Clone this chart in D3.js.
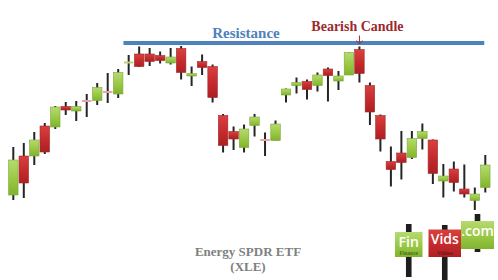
<!DOCTYPE html>
<html>
<head>
<meta charset="utf-8">
<script src="https://cdn.jsdelivr.net/npm/d3@7"></script>
<style>
  html, body { margin: 0; padding: 0; background: #fff; }
  svg { display: block; }
</style>
</head>
<body>
<div id="chart"></div>
<script>
// daily OHLC, oldest first
const opens = [54.0, 61.8, 61.8, 67.8, 67.6, 71.7, 70.8, 72.9, 72.9, 74.7, 74.2, 80.4, 82.2, 82.2, 81.9, 80.4,
  83.3, 77.8, 80.7, 79.7, 69.9, 66.7, 63.5, 67.9, 65.1, 64.9, 74.0, 75.9, 76.7, 75.9, 79.2, 76.8, 78.0, 83.1,
  75.9, 69.9, 60.7, 62.4, 61.5, 65.3, 65.0, 56.8, 59.2, 55.2, 52.9, 55.5];
const highs = [63.6, 64.4, 66.6, 68.4, 71.8, 72.6, 72.8, 74.2, 76.4, 78.4, 79.2, 82.0, 83.7, 83.4, 82.7, 83.4,
  83.8, 79.7, 82.1, 80.1, 70.2, 67.7, 68.1, 70.2, 66.5, 68.9, 75.3, 77.5, 77.1, 78.5, 79.5, 78.8, 82.5, 83.7,
  76.5, 70.1, 63.7, 66.8, 66.8, 68.3, 65.1, 60.2, 60.7, 60.1, 55.5, 62.0];
const lows = [53.0, 53.4, 60.0, 62.2, 67.2, 70.0, 68.8, 69.6, 72.0, 72.4, 73.4, 78.0, 79.6, 79.8, 80.3, 80.1,
  77.1, 75.8, 78.0, 72.5, 62.5, 63.0, 62.5, 65.7, 61.8, 64.9, 72.5, 74.3, 73.1, 74.7, 72.7, 75.0, 78.0, 76.5,
  68.0, 62.7, 55.7, 57.1, 61.2, 63.1, 56.2, 53.5, 54.7, 53.5, 51.0, 54.5];
const closes = [61.0, 56.4, 65.0, 62.6, 71.6, 71.0, 71.7, 72.8, 75.5, 74.6, 78.5, 80.5, 79.7, 80.7, 80.9, 81.6,
  78.5, 78.3, 79.5, 73.5, 63.9, 65.2, 67.2, 69.6, 65.0, 68.2, 75.2, 76.5, 75.1, 78.0, 77.9, 77.8, 82.5, 78.3,
  70.6, 65.2, 59.1, 60.5, 65.3, 66.7, 58.3, 57.8, 56.5, 54.2, 54.2, 60.0];

const resistance = 84.4;
const resistanceSpan = [10.5, 44.9]; // in candle index units
const resistanceLabel = "Resistance";
const bearishIndex = 33;
const bearishLabel = "Bearish Candle";
const titleLines = ["Energy SPDR ETF", "(XLE)"];
const logoWords = ["Fin", "Vids", ".com"];
const logoSubs = ["Finance", "Videos", ""];
const logoUp = [true, false, true];

class CandleChart {
  constructor({ el }) {
    this.el = el;
    this.init();
  }

  init() {
    this.width = 498;
    this.height = 280;
    this.bodyW = 9.5;
    this.data = opens.map((o, i) => ({
      i,
      open: o,
      high: highs[i],
      low: lows[i],
      close: closes[i],
    }));

    this.x = d3.scaleLinear().domain([0, 45]).range([13.3, 485.3]);
    this.y = d3.scaleLinear().domain([50, 85]).range([215, 40]);

    this.scaffold();
    this.renderResistance();
    this.renderCandles();
    this.renderBearish();
    this.renderTitle();
    this.renderLogo();
  }

  scaffold() {
    this.svg = d3
      .select(this.el)
      .append("svg")
      .attr("width", this.width)
      .attr("height", this.height)
      .attr("viewBox", [0, 0, this.width, this.height]);

    const defs = this.svg.append("defs");
    const grad = (id, stops) =>
      defs
        .append("linearGradient")
        .attr("id", id)
        .attr("x1", 0)
        .attr("x2", 0)
        .attr("y1", 0)
        .attr("y2", 1)
        .selectAll("stop")
        .data(stops)
        .join("stop")
        .attr("offset", (d) => d[0])
        .attr("stop-color", (d) => d[1]);
    grad("gUp", [[0, "#b6da70"], [0.5, "#9cca47"], [1, "#80b32e"]]);
    grad("gDown", [[0, "#d9413f"], [0.5, "#c62c2e"], [1, "#ae1f22"]]);
  }

  renderResistance() {
    this.svg
      .append("line")
      .attr("x1", this.x(resistanceSpan[0]))
      .attr("x2", this.x(resistanceSpan[1]))
      .attr("y1", this.y(resistance))
      .attr("y2", this.y(resistance))
      .attr("stroke", "#4f81bd")
      .attr("stroke-width", 4);

    this.svg
      .append("text")
      .attr("x", 246)
      .attr("y", this.y(resistance) - 5)
      .attr("text-anchor", "middle")
      .attr("font-family", "Liberation Serif, serif")
      .attr("font-weight", "bold")
      .attr("font-size", 15)
      .attr("fill", "#4f81bd")
      .text(resistanceLabel);
  }

  renderCandles() {
    const g = this.svg.append("g").attr("class", "candles");
    const isDoji = (d) => Math.abs(d.close - d.open) < 0.25;

    g.selectAll(".wick")
      .data(this.data)
      .join("line")
      .attr("class", "wick")
      .attr("x1", (d) => this.x(d.i))
      .attr("x2", (d) => this.x(d.i))
      .attr("y1", (d) => this.y(d.high))
      .attr("y2", (d) => this.y(d.low))
      .attr("stroke", "#252525")
      .attr("stroke-width", 2);

    g.selectAll(".body")
      .data(this.data.filter((d) => !isDoji(d)))
      .join("rect")
      .attr("class", "body")
      .attr("x", (d) => this.x(d.i) - this.bodyW / 2)
      .attr("width", this.bodyW)
      .attr("y", (d) => this.y(Math.max(d.open, d.close)))
      .attr("height", (d) => Math.abs(this.y(d.open) - this.y(d.close)))
      .attr("fill", (d) => (d.close > d.open ? "url(#gUp)" : "url(#gDown)"))
      .attr("stroke", (d) => (d.close > d.open ? "#7aa83a" : "#9e2a2a"))
      .attr("stroke-width", 0.6);

    g.selectAll(".doji")
      .data(this.data.filter(isDoji))
      .join("line")
      .attr("class", "doji")
      .attr("x1", (d) => this.x(d.i) - this.bodyW / 2)
      .attr("x2", (d) => this.x(d.i) + this.bodyW / 2)
      .attr("y1", (d) => this.y(d.close))
      .attr("y2", (d) => this.y(d.close))
      .attr("stroke", (d) => (d.close > d.open ? "#b2d774" : "#e8a3a3"))
      .attr("stroke-width", 2);
  }

  renderBearish() {
    const d = this.data[bearishIndex];
    const cx = this.x(d.i);
    const top = this.y(d.high);

    this.svg
      .append("line")
      .attr("x1", cx)
      .attr("x2", cx)
      .attr("y1", top - 11)
      .attr("y2", top - 4)
      .attr("stroke", "#9b2a2f")
      .attr("stroke-width", 1);
    this.svg
      .append("path")
      .attr("d", `M${cx - 3},${top - 6}L${cx},${top - 2.5}L${cx + 3},${top - 6}`)
      .attr("fill", "none")
      .attr("stroke", "#9b2a2f")
      .attr("stroke-width", 1);

    this.svg
      .append("text")
      .attr("x", cx - 2)
      .attr("y", 30.5)
      .attr("text-anchor", "middle")
      .attr("font-family", "Liberation Serif, serif")
      .attr("font-weight", "bold")
      .attr("font-size", 14)
      .attr("fill", "#9b2a2f")
      .text(bearishLabel);
  }

  renderTitle() {
    this.svg
      .append("text")
      .attr("text-anchor", "middle")
      .attr("font-family", "Liberation Serif, serif")
      .attr("font-weight", "bold")
      .attr("font-size", 13)
      .attr("fill", "#7f7f7f")
      .selectAll("tspan")
      .data(titleLines)
      .join("tspan")
      .attr("x", 248)
      .attr("y", (d, i) => 256 + i * 15)
      .text((d) => d);
  }

  renderLogo() {
    const boxes = [
      { x: 395, w: 27.5, y: 232, h: 25, wick: [224, 277] },
      { x: 428.5, w: 32.5, y: 229.5, h: 27.5, wick: [225, 280] },
      { x: 461, w: 33, y: 221, h: 28, wick: [214, 252] },
    ];
    const g = this.svg.append("g").attr("class", "logo");
    const items = g.selectAll("g").data(boxes).join("g");

    items
      .append("rect")
      .attr("x", (d) => d.x + d.w / 2 - 2.8)
      .attr("width", 5.6)
      .attr("y", (d) => d.wick[0])
      .attr("height", (d) => d.wick[1] - d.wick[0])
      .attr("fill", "#1e1e1e");
    items
      .append("rect")
      .attr("x", (d) => d.x)
      .attr("y", (d) => d.y)
      .attr("width", (d) => d.w)
      .attr("height", (d) => d.h)
      .attr("fill", (d, i) => (logoUp[i] ? "url(#gUp)" : "url(#gDown)"));
    items
      .append("text")
      .attr("x", (d) => d.x + d.w / 2)
      .attr("y", (d) => d.y + 14.5)
      .attr("text-anchor", "middle")
      .attr("font-family", "Open Sans, sans-serif")
      .attr("font-weight", 600)
      .attr("font-size", 14)
      .attr("fill", "#fff")
      .text((d, i) => logoWords[i]);
    items
      .append("text")
      .attr("x", (d) => d.x + d.w / 2)
      .attr("y", (d) => d.y + d.h - 2)
      .attr("text-anchor", "middle")
      .attr("font-family", "Liberation Serif, serif")
      .attr("font-weight", "bold")
      .attr("font-size", 5.5)
      .attr("fill", (d, i) => (logoUp[i] ? "#4d6e1d" : "#6e1414"))
      .text((d, i) => logoSubs[i]);
  }
}

new CandleChart({ el: document.getElementById("chart") });
</script>
</body>
</html>
